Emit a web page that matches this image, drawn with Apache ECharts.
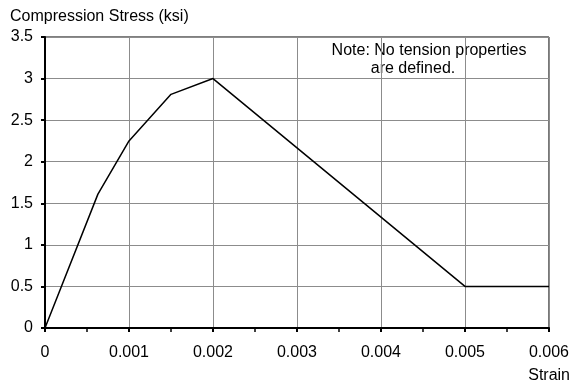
<!DOCTYPE html>
<html>
<head>
<meta charset="utf-8">
<script src="https://cdn.jsdelivr.net/npm/echarts@6/dist/echarts.min.js"></script>
<style>
html,body{margin:0;padding:0;background:#fff}
#chart{width:572px;height:389px}
</style>
</head>
<body>
<div id="chart"></div>
<script>
var strain = [0, 0.00063, 0.001, 0.0015, 0.002, 0.005, 0.006]
var stress = [0, 1.61, 2.25, 2.81, 3.0, 0.5, 0.5]
var xTicks = [0, 0.001, 0.002, 0.003, 0.004, 0.005, 0.006]
var yTicks = [0, 0.5, 1, 1.5, 2, 2.5, 3, 3.5]

var pts = []
for (var i = 0; i < strain.length; i++) {
	pts.push([strain[i], stress[i]])
}

var font = 'Liberation Sans, Arial, sans-serif'
var chart = echarts.init(document.getElementById('chart'))
chart.setOption({
	animation: false,
	grid: { left: 45, right: 21, top: 37, bottom: 61, show: true, borderColor: '#000', borderWidth: 1 },
	xAxis: {
		type: 'value', min: 0, max: xTicks[xTicks.length - 1], interval: 0.001,
		axisLine: { lineStyle: { color: '#000', width: 2 } },
		axisTick: { show: true, length: 4, lineStyle: { color: '#000', width: 2 } },
		minorTick: { show: true, splitNumber: 2, length: 4, lineStyle: { color: '#000', width: 1.5 } },
		splitLine: { show: true, lineStyle: { color: '#8c8c8c', width: 1 } },
		axisLabel: { color: '#000', fontFamily: font, fontSize: 16, margin: 17,
			formatter: function(v) { return xTicks.indexOf(v) >= 0 ? String(v) : '' } }
	},
	yAxis: {
		type: 'value', min: 0, max: yTicks[yTicks.length - 1], interval: 0.5,
		axisLine: { show: true, lineStyle: { color: '#000', width: 2 } },
		axisTick: { show: true, length: 4, lineStyle: { color: '#000', width: 2 } },
		splitLine: { show: true, lineStyle: { color: '#8c8c8c', width: 1 } },
		axisLabel: { color: '#000', fontFamily: font, fontSize: 16, margin: 12 }
	},
	graphic: [
		{ type: 'text', left: 10, top: 9, style: { text: 'Compression Stress (ksi)', font: '16px ' + font, fill: '#000' } },
		{ type: 'text', right: 2, top: 368, style: { text: 'Strain', font: '16px ' + font, fill: '#000' } },
		// the two note lines are not centred on the same x in the original
		{ type: 'text', x: 429, y: 43, style: { text: 'Note: No tension properties', font: '16px ' + font, fill: '#000', align: 'center' } },
		{ type: 'text', x: 413, y: 61, style: { text: 'are defined.', font: '16px ' + font, fill: '#000', align: 'center' } }
	],
	series: [{
		type: 'line',
		data: pts,
		symbol: 'none',
		lineStyle: { color: '#000', width: 1.5 }
	}]
})
</script>
</body>
</html>
